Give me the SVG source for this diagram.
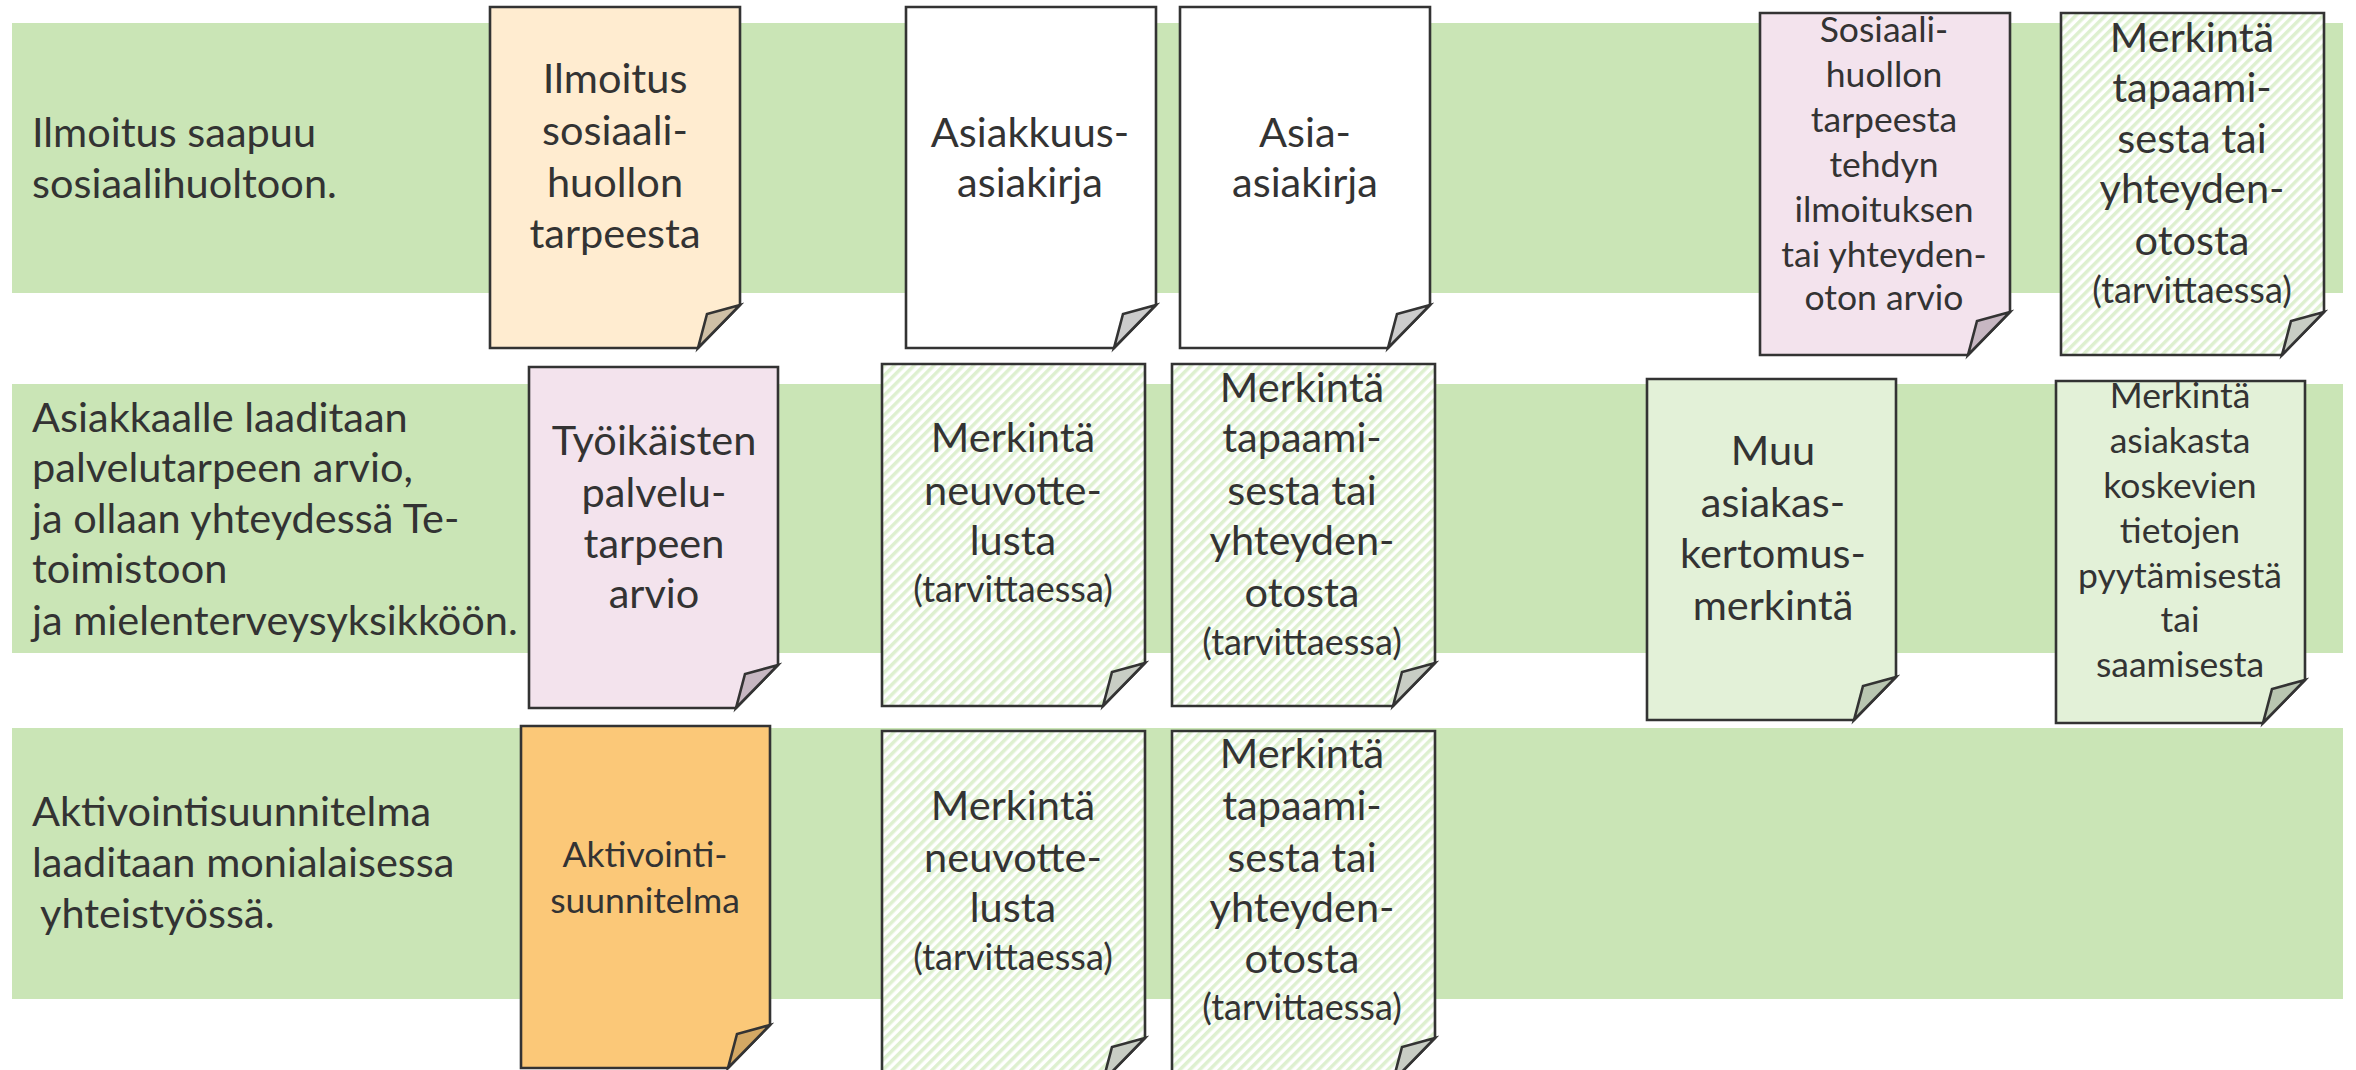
<svg xmlns="http://www.w3.org/2000/svg" width="2356" height="1070" viewBox="0 0 2356 1070">
<style>
.band{fill:#cae5b6}
.doc{stroke:#333;stroke-width:2.6;stroke-linejoin:miter}
.flap{stroke:#333;stroke-width:2.6;stroke-linejoin:miter}
.t{font-family:Lato,"Noto Sans",sans-serif;fill:#333;font-size:41.5px}
.c{text-anchor:middle}
.s{font-size:35.5px}
.xs{font-size:36px}
.peach{fill:#ffecd0}.peachf{fill:#cfc0a6}
.white{fill:#fff}.whitef{fill:#cccccc}
.pink{fill:#f3e3ed}.pinkf{fill:#c7b7c2}
.hatch{fill:url(#hatch)}.hatchf{fill:#c8cdc4}
.lg{fill:#e3f1d8}.lgf{fill:#b9c6b1}
.orange{fill:#fbc878}.orangef{fill:#d3a864}
</style>
<defs>
<pattern id="hatch" width="7" height="7" patternUnits="userSpaceOnUse" patternTransform="rotate(45)">
<rect width="7" height="7" fill="#fff"/>
<rect width="3.5" height="7" fill="#def0d0"/>
</pattern>
</defs>
<g id="bands">
<rect class="band" x="12" y="23" width="2331" height="270"/>
<rect class="band" x="12" y="384" width="2331" height="269"/>
<rect class="band" x="12" y="728" width="2331" height="271"/>
</g>
<g id="row-labels">
<text class="t" x="32" y="147">Ilmoitus saapuu</text>
<text class="t" x="32" y="198">sosiaalihuoltoon.</text>
<text class="t" x="32" y="432">Asiakkaalle laaditaan</text>
<text class="t" x="32" y="482">palvelutarpeen arvio,</text>
<text class="t" x="32" y="533">ja ollaan yhteydessä Te-</text>
<text class="t" x="32" y="583">toimistoon</text>
<text class="t" x="32" y="635">ja mielenterveysyksikköön.</text>
<text class="t" x="32" y="826">Aktivointisuunnitelma</text>
<text class="t" x="32" y="877">laaditaan monialaisessa</text>
<text class="t" x="40" y="928">yhteistyössä.</text>
</g>
<g id="connectors"/>
<g id="doc-ilmoitus">
<path class="doc peach" d="M490,7 H740 V305 L698,348 H490 Z"/>
<path class="flap peachf" d="M740,305 L707,314 L698,348 Z"/>
<text class="t c" x="615" y="93">Ilmoitus</text>
<text class="t c" x="615" y="145">sosiaali-</text>
<text class="t c" x="615" y="197">huollon</text>
<text class="t c" x="615" y="248">tarpeesta</text>
</g>
<g id="doc-asiakkuusasiakirja">
<path class="doc white" d="M906,7 H1156 V305 L1114,348 H906 Z"/>
<path class="flap whitef" d="M1156,305 L1123,314 L1114,348 Z"/>
<text class="t c" x="1030" y="147">Asiakkuus-</text>
<text class="t c" x="1030" y="197">asiakirja</text>
</g>
<g id="doc-asia-asiakirja">
<path class="doc white" d="M1180,7 H1430 V305 L1388,348 H1180 Z"/>
<path class="flap whitef" d="M1430,305 L1397,314 L1388,348 Z"/>
<text class="t c" x="1305" y="147">Asia-</text>
<text class="t c" x="1305" y="197">asiakirja</text>
</g>
<g id="doc-arvio-ilmoitus">
<path class="doc pink" d="M1760,13 H2010 V312 L1968,355 H1760 Z"/>
<path class="flap pinkf" d="M2010,312 L1977,321 L1968,355 Z"/>
<text class="t c s" x="1884" y="42">Sosiaali-</text>
<text class="t c s" x="1884" y="87">huollon</text>
<text class="t c s" x="1884" y="132">tarpeesta</text>
<text class="t c s" x="1884" y="177">tehdyn</text>
<text class="t c s" x="1884" y="222">ilmoituksen</text>
<text class="t c s" x="1884" y="267">tai yhteyden-</text>
<text class="t c s" x="1884" y="310">oton arvio</text>
</g>
<g id="doc-merkinta-tapaaminen-1">
<path class="doc hatch" d="M2061,13 H2324 V312 L2282,355 H2061 Z"/>
<path class="flap hatchf" d="M2324,312 L2291,321 L2282,355 Z"/>
<text class="t c" x="2192" y="52">Merkintä</text>
<text class="t c" x="2192" y="102">tapaami-</text>
<text class="t c" x="2192" y="153">sesta tai</text>
<text class="t c" x="2192" y="203">yhteyden-</text>
<text class="t c" x="2192" y="255">otosta</text>
<text class="t c xs" x="2192" y="303">(tarvittaessa)</text>
</g>
<g id="doc-palvelutarpeen-arvio">
<path class="doc pink" d="M529,367 H778 V665 L736,708 H529 Z"/>
<path class="flap pinkf" d="M778,665 L745,674 L736,708 Z"/>
<text class="t c" x="654" y="455">Työikäisten</text>
<text class="t c" x="654" y="507">palvelu-</text>
<text class="t c" x="654" y="558">tarpeen</text>
<text class="t c" x="654" y="608">arvio</text>
</g>
<g id="doc-merkinta-neuvottelu-2">
<path class="doc hatch" d="M882,364 H1145 V663 L1103,706 H882 Z"/>
<path class="flap hatchf" d="M1145,663 L1112,672 L1103,706 Z"/>
<text class="t c" x="1013" y="452">Merkintä</text>
<text class="t c" x="1013" y="505">neuvotte-</text>
<text class="t c" x="1013" y="555">lusta</text>
<text class="t c xs" x="1013" y="602">(tarvittaessa)</text>
</g>
<g id="doc-merkinta-tapaaminen-2">
<path class="doc hatch" d="M1172,364 H1435 V663 L1393,706 H1172 Z"/>
<path class="flap hatchf" d="M1435,663 L1402,672 L1393,706 Z"/>
<text class="t c" x="1302" y="402">Merkintä</text>
<text class="t c" x="1302" y="452">tapaami-</text>
<text class="t c" x="1302" y="505">sesta tai</text>
<text class="t c" x="1302" y="555">yhteyden-</text>
<text class="t c" x="1302" y="607">otosta</text>
<text class="t c xs" x="1302" y="655">(tarvittaessa)</text>
</g>
<g id="doc-muu-merkinta">
<path class="doc lg" d="M1647,379 H1896 V677 L1854,720 H1647 Z"/>
<path class="flap lgf" d="M1896,677 L1863,686 L1854,720 Z"/>
<text class="t c" x="1773" y="465">Muu</text>
<text class="t c" x="1773" y="517">asiakas-</text>
<text class="t c" x="1773" y="568">kertomus-</text>
<text class="t c" x="1773" y="620">merkintä</text>
</g>
<g id="doc-merkinta-tietojen-pyytaminen">
<path class="doc lg" d="M2056,381 H2305 V680 L2263,723 H2056 Z"/>
<path class="flap lgf" d="M2305,680 L2272,689 L2263,723 Z"/>
<text class="t c s" x="2180" y="408">Merkintä</text>
<text class="t c s" x="2180" y="453">asiakasta</text>
<text class="t c s" x="2180" y="498">koskevien</text>
<text class="t c s" x="2180" y="543">tietojen</text>
<text class="t c s" x="2180" y="588">pyytämisestä</text>
<text class="t c s" x="2180" y="632">tai</text>
<text class="t c s" x="2180" y="677">saamisesta</text>
</g>
<g id="doc-aktivointisuunnitelma">
<path class="doc orange" d="M521,726 H770 V1025 L728,1068 H521 Z"/>
<path class="flap orangef" d="M770,1025 L737,1034 L728,1068 Z"/>
<text class="t c s" x="645" y="867">Aktivointi-</text>
<text class="t c s" x="645" y="913">suunnitelma</text>
</g>
<g id="doc-merkinta-neuvottelu-3">
<path class="doc hatch" d="M882,731 H1145 V1038 L1103,1081 H882 Z"/>
<path class="flap hatchf" d="M1145,1038 L1112,1047 L1103,1081 Z"/>
<text class="t c" x="1013" y="820">Merkintä</text>
<text class="t c" x="1013" y="872">neuvotte-</text>
<text class="t c" x="1013" y="922">lusta</text>
<text class="t c xs" x="1013" y="970">(tarvittaessa)</text>
</g>
<g id="doc-merkinta-tapaaminen-3">
<path class="doc hatch" d="M1172,731 H1435 V1038 L1393,1081 H1172 Z"/>
<path class="flap hatchf" d="M1435,1038 L1402,1047 L1393,1081 Z"/>
<text class="t c" x="1302" y="768">Merkintä</text>
<text class="t c" x="1302" y="820">tapaami-</text>
<text class="t c" x="1302" y="872">sesta tai</text>
<text class="t c" x="1302" y="922">yhteyden-</text>
<text class="t c" x="1302" y="973">otosta</text>
<text class="t c xs" x="1302" y="1020">(tarvittaessa)</text>
</g>
</svg>
